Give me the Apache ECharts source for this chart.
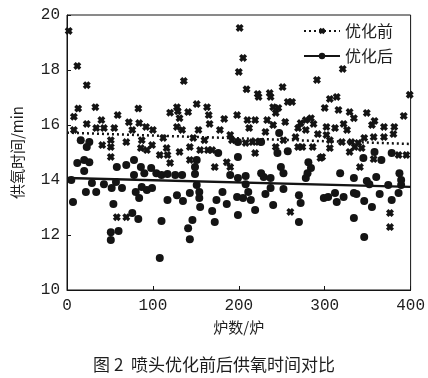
<!DOCTYPE html>
<html>
<head>
    <meta charset="utf-8">
    <title>ECharts</title>
    <script src="https://cdn.jsdelivr.net/npm/echarts@6/dist/echarts.min.js"></script>
    <style>html, body { margin: 0; background: #fff; }</style>
</head>
<body>
<div id="main" style="height: 378px; width: 428px;"></div>
<script type="text/javascript">
    // 优化前 [炉数, 供氧时间]
    var beforeData = [
        [2,19.42],[12,18.15],[23,17.45],[136,17.6],[201,19.53],[205,18.44],[200,17.93],[321,18.04],[291,17.64],[399,17.1],
        [209,17.3],[222,17.13],[236,17.16],[251,17.38],[306,16.95],
        [13,16.6],[33,16.65],[83,16.6],[120,16.45],[128,16.65],[141,16.47],[151,16.76],[163,16.65],[59,16.36],[8,16.3],[165,16.36],[183,16.22],
        [23,16.04],[40,16.18],[34,15.89],[43,15.89],[55,15.89],[8,15.82],[72,16.1],[84,16.07],[92,15.93],[76,15.82],
        [41,15.27],[51,15.45],[51,15.2],[69,15.38],[87,15.45],[86,15.16],[93,15.09],[51,14.84],[58,12.65],[69,12.65],
        [129,16.5],[166,16.04],[131,16.25],[128,15.93],[134,15.82],[198,16.36],[178,15.82],[190,15.64],[192,15.45],[153,15.82],
        [100,15.82],[112,15.53],[147,15.53],[160,15.45],[99,15.27],[116,15.16],[131,15.02],[143,15.2],[155,15.09],[164,15.09],
        [169,15.09],[108,14.91],[117,14.91],[120,14.62],[143,14.73],[172,14.47],[186,14.65],[190,14.47],
        [223,17.02],[237,17.02],[257,16.84],[262,16.84],[240,16.65],[246,16.62],[243,16.44],[210,16.18],[219,16.18],[233,16.18],
        [254,16.11],[212,15.89],[240,16.0],[231,15.75],[272,16.07],[278,16.18],[284,16.25],[287,16.04],[269,15.89],[278,15.82],
        [292,15.67],[266,15.56],[208,15.35],[216,15.38],[223,15.38],[252,15.45],[243,15.2],[269,15.2],[274,15.2],[286,15.2],
        [219,14.98],[295,14.8],[260,12.84],
        [314,17.02],[300,16.62],[316,16.55],[329,16.47],[334,16.25],[349,16.44],[358,16.15],[355,16.0],[369,15.93],[381,15.93],
        [392,16.33],[302,15.93],[312,15.89],[322,16.04],[326,15.82],[302,15.64],[306,15.45],[320,15.38],[331,15.38],[339,15.35],
        [346,15.53],[357,15.56],[369,15.56],[380,15.67],[335,15.2],[343,15.16],[306,15.16],[329,15.02],[386,14.91],[395,14.91],
        [357,14.76],[341,14.47],[376,12.8],[376,12.29],[297,14.84]
    ];
    // 优化后 [炉数, 供氧时间]
    var afterData = [
        [16,15.45],[26,15.38],[23,15.2],[12,14.62],[20,14.73],[26,14.65],[20,14.33],[5,14.0],[29,13.89],[22,13.56],
        [34,13.56],[43,13.85],[57,13.93],[52,13.71],[64,13.71],[58,14.47],[69,14.55],[78,14.73],[86,14.47],[90,14.25],
        [78,14.18],[98,14.44],[80,13.56],[87,13.75],[93,13.64],[84,13.35],[7,13.2],[54,13.13],[76,12.8],[83,12.58],
        [51,12.1],[60,12.15],[51,11.82],
        [176,14.98],[199,14.84],[151,14.73],[149,14.47],[149,14.22],[104,14.25],[110,14.18],[117,14.22],[126,14.18],[134,14.18],
        [190,14.18],[199,14.07],[99,13.71],[151,13.82],[143,13.53],[154,13.56],[154,13.35],[128,13.45],[117,13.27],[135,13.24],
        [155,13.02],[174,13.27],[181,13.56],[186,13.13],[198,13.38],[199,12.73],[169,12.87],[172,12.47],[146,12.55],[110,12.51],
        [141,12.25],[143,11.85],[108,11.16],
        [247,15.71],[226,15.38],[199,15.38],[245,14.98],[257,15.05],[249,14.47],[252,14.25],[281,14.65],[284,14.44],[280,14.25],
        [278,14.07],[226,14.25],[229,14.11],[237,14.07],[208,14.15],[208,13.85],[237,13.71],[252,13.67],[211,13.56],[231,13.49],
        [205,13.35],[214,13.27],[270,13.45],[272,13.16],[240,13.09],[219,12.91],[270,12.47],[299,13.35],
        [358,15.02],[378,14.98],[345,14.8],[366,14.73],[318,14.25],[334,14.07],[349,13.96],[352,13.85],[360,14.11],[374,13.82],
        [387,14.25],[389,14.0],[389,13.82],[304,13.38],[312,13.53],[314,13.2],[322,13.38],[334,13.53],[337,13.49],[346,13.24],
        [355,13.02],[364,13.49],[378,13.27],[386,13.53],[334,12.62],[346,11.93]
    ];
    // 趋势线
    var trendX = [0, 400];
    var beforeTrend = [15.72, 15.31];
    var afterTrend = [14.07, 13.75];

    var pairs = function(xs, ys) {
        var d = [];
        for (var i = 0; i < xs.length; i++) d.push([xs[i], ys[i]]);
        return d;
    };

    var ink = '#141414';
    var textColor = '#1e1e1e';
    // bold x marker
    var cross = 'path://M0,3 L3,0 L5,2 L7,0 L10,3 L8,5 L10,7 L7,10 L5,8 L3,10 L0,7 L2,5 Z';
    var numFont = 'Liberation Mono';
    var cjkFont = 'Noto Sans CJK SC';

    var myChart = echarts.init(document.getElementById('main'));

    option = {
        animation: false,
        backgroundColor: '#fff',
        title: {
            text: '图 2  喷头优化前后供氧时间对比',
            left: 'center',
            top: 351,
            textStyle: { fontFamily: cjkFont, fontSize: 17, fontWeight: 'normal', color: textColor }
        },
        grid: {
            left: 67, right: 17, top: 15, bottom: 88,
            show: true, borderColor: ink, borderWidth: 1
        },
        legend: {
            orient: 'vertical',
            right: 30,
            top: 18,
            itemWidth: 36,
            itemHeight: 8,
            itemGap: 9,
            data: ['优化前', '优化后'],
            textStyle: { fontFamily: cjkFont, fontSize: 16, color: textColor }
        },
        xAxis: {
            type: 'value',
            min: 0, max: 400, interval: 100,
            name: '炉数/炉',
            nameLocation: 'middle',
            nameGap: 30,
            nameTextStyle: { fontFamily: cjkFont, fontSize: 15, color: textColor },
            axisLine: { lineStyle: { color: ink } },
            axisTick: { inside: true, length: 4, lineStyle: { color: ink } },
            axisLabel: { fontFamily: numFont, fontSize: 16, color: textColor, margin: 8 },
            splitLine: { show: false }
        },
        yAxis: {
            type: 'value',
            min: 10, max: 20, interval: 2,
            name: '供氧时间/min',
            nameLocation: 'middle',
            nameGap: 42,
            nameTextStyle: { fontFamily: cjkFont, fontSize: 15, color: textColor },
            axisLine: { lineStyle: { color: ink } },
            axisTick: { inside: true, length: 4, lineStyle: { color: ink } },
            axisLabel: { fontFamily: numFont, fontSize: 16, color: textColor, margin: 7 },
            splitLine: { show: false }
        },
        series: [
            {
                name: '优化前',
                type: 'line',
                data: pairs(trendX, beforeTrend),
                symbol: cross,
                symbolSize: 8,
                showSymbol: false,
                itemStyle: { color: ink },
                lineStyle: { color: ink, width: 2.5, type: [2, 3] },
                z: 5
            },
            {
                name: '优化后',
                type: 'line',
                data: pairs(trendX, afterTrend),
                symbol: 'circle',
                symbolSize: 8,
                showSymbol: false,
                itemStyle: { color: ink },
                lineStyle: { color: ink, width: 2.5 },
                z: 5
            },
            {
                name: '优化前',
                type: 'scatter',
                data: beforeData,
                symbol: cross,
                symbolSize: 8,
                itemStyle: { color: ink, opacity: 1 }
            },
            {
                name: '优化后',
                type: 'scatter',
                data: afterData,
                symbol: 'circle',
                symbolSize: 8,
                itemStyle: { color: ink, opacity: 1 }
            }
        ]
    };

    myChart.setOption(option);
</script>
</body>
</html>
